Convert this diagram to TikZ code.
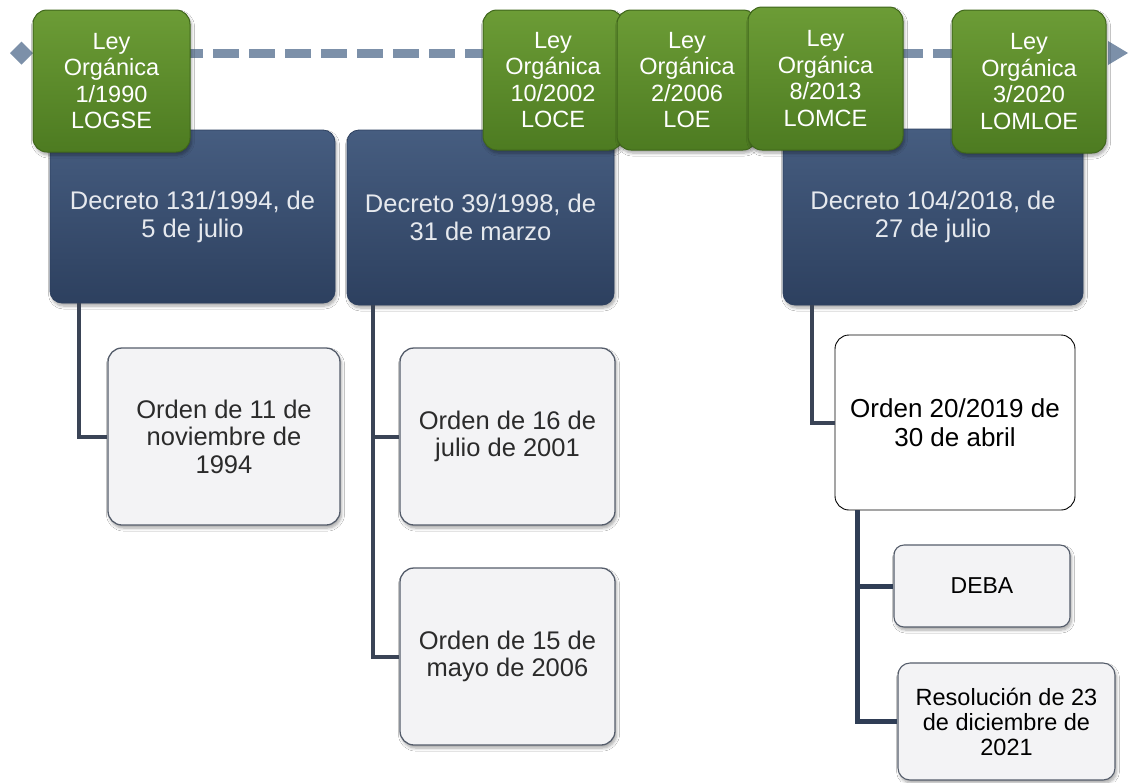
\documentclass[tikz,border=0pt]{standalone}
\usepackage{fontspec}
\setmainfont{Liberation Sans}
\usetikzlibrary{calc,shadows.blur}

\definecolor{leytop}{HTML}{6C9C36}
\definecolor{leybot}{HTML}{4D7B21}
\definecolor{leyline}{HTML}{3F661B}
\definecolor{dectop}{HTML}{465D80}
\definecolor{decbot}{HTML}{2D405F}
\definecolor{ordfill}{HTML}{F3F3F5}
\definecolor{ordline}{HTML}{555D6B}
\definecolor{linkcol}{HTML}{3A4456}
\definecolor{linkcolb}{HTML}{2F3D55}
\definecolor{timecol}{HTML}{7C90A9}
\definecolor{dectext}{HTML}{E6E9EE}
\definecolor{ordtext}{HTML}{2B2B2B}

\begin{document}
\begin{tikzpicture}[x=1pt,y=-1pt,
  boxshadow/.style={blur shadow={shadow xshift=1.5pt,shadow yshift=-3pt,
      shadow blur radius=3pt,shadow blur steps=6,shadow opacity=35}},
  ley/.style={draw=leyline,line width=1pt,rounded corners=14pt,
      top color=leytop,bottom color=leybot,text=white,align=center,
      inner sep=0pt,font=\fontsize{23.5}{26.5}\selectfont,boxshadow},
  decreto/.style={draw=decbot,line width=0.8pt,rounded corners=12pt,
      top color=dectop,bottom color=decbot,text=dectext,align=center,
      inner sep=0pt,font=\fontsize{25.5}{28}\selectfont,boxshadow},
  orden/.style={draw=ordline,line width=1.3pt,rounded corners=14pt,
      fill=ordfill,text=ordtext,align=center,inner sep=0pt,
      font=\fontsize{25.5}{27.5}\selectfont,boxshadow},
  ordenw/.style={draw=black,line width=0.9pt,rounded corners=14pt,
      fill=white,text=black,align=center,inner sep=0pt,
      font=\fontsize{26}{29}\selectfont},
  link/.style={draw=linkcol,line width=4pt},
  linkb/.style={draw=linkcolb,line width=5pt},
  timeline/.style={draw=timecol,line width=9pt,dash pattern=on 26pt off 10pt}
]
% white page
\fill[white] (0,0) rectangle (1135,782);
\useasboundingbox (0,0) rectangle (1135,782);

% time axis: diamond start, dashed line, arrow end
\coordinate (tstart) at (33,53);
\coordinate (tend) at (1110,53);
\fill[timecol] (10,53) -- (21.5,41.5) -- (33,53) -- (21.5,64.5) -- cycle;
\draw[timeline] (tstart) -- (tend);
\fill[timecol] (1108,41) -- (1128,53) -- (1108,65) -- cycle;

% decrees
\node[decreto,minimum width=285pt,minimum height=173pt] (d1) at (192.5,216.5)
  {Decreto 131/1994, de\\5 de julio};
\node[decreto,minimum width=267pt,minimum height=175pt] (d2) at (480.5,217.5)
  {Decreto 39/1998, de\\31 de marzo};
\node[decreto,minimum width=300pt,minimum height=176pt] (d3) at (933,217)
  {Decreto 104/2018, de\\27 de julio};

% orders and resolutions
\node[orden,minimum width=232pt,minimum height=177pt] (o1) at (224,436.5)
  {Orden de 11 de\\noviembre de\\1994};
\node[orden,minimum width=215pt,minimum height=177pt] (o2) at (507.5,436.5)
  {Orden de 16 de\\julio de 2001};
\node[orden,minimum width=215pt,minimum height=177pt] (o3) at (507.5,656.5)
  {Orden de 15 de\\mayo de 2006};
\node[ordenw,minimum width=240pt,minimum height=175pt] (o4) at (955,422.5)
  {Orden 20/2019 de\\30 de abril};
\node[orden,line width=1.1pt,rounded corners=10pt,minimum width=176pt,minimum height=82pt,
      text=black,font=\fontsize{23}{25}\selectfont] (deba) at (982,586) {DEBA};
\node[orden,line width=1.1pt,rounded corners=12pt,minimum width=217pt,minimum height=117pt,
      text=black,font=\fontsize{23.5}{25}\selectfont] (res) at (1006.5,721.5)
  {Resolución de 23\\de diciembre de\\2021};

% elbow connectors from each parent box down to its children
\draw[link] ($(d1.south west)+(29,0)$) |- (o1.west);
\draw[link] ($(d2.south west)+(26,0)$) |- (o2.west);
\draw[link] ($(d2.south west)+(26,0)$) |- (o3.west);
\draw[link] ($(d3.south west)+(29,0)$) |- (o4.west);
\draw[linkb] ($(o4.south west)+(23,0)$) |- (deba.west);
\draw[linkb] ($(o4.south west)+(23,0)$) |- (res.west);

% organic laws on the time axis
\node[ley,minimum width=157pt,minimum height=142pt] (l1) at (111.5,81)
  {Ley\\Orgánica\\1/1990\\LOGSE};
\node[ley,minimum width=140pt,minimum height=140pt] (l2) at (553,80)
  {Ley\\Orgánica\\10/2002\\LOCE};
\node[ley,minimum width=140pt,minimum height=140pt] (l3) at (687,80)
  {Ley\\Orgánica\\2/2006\\LOE};
\node[ley,minimum width=155pt,minimum height=143pt] (l4) at (825.5,78.5)
  {Ley\\Orgánica\\8/2013\\LOMCE};
\node[ley,minimum width=154pt,minimum height=143pt] (l5) at (1029,81.5)
  {Ley\\Orgánica\\3/2020\\LOMLOE};
\end{tikzpicture}
\end{document}
